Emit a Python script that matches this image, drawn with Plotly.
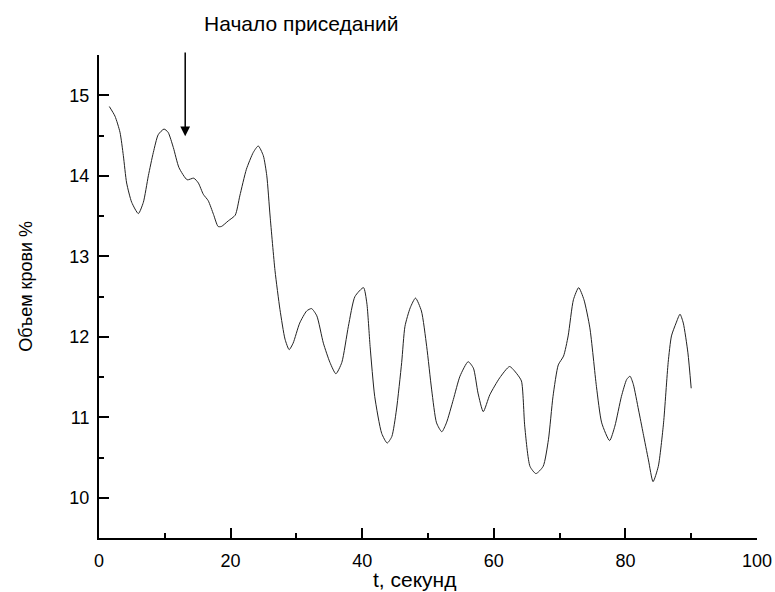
import plotly.graph_objects as go

t = [1.57, 2.43, 3.19, 3.7, 4.2, 4.97, 5.98, 6.74, 7.5, 8.26, 9.0, 9.88, 10.5, 11.3, 12.16,
     13.4, 14.4, 15.1, 15.85, 16.6, 17.4, 18.1, 18.6, 19.65, 20.7, 21.4, 22.4, 23.45, 24.2,
     24.97, 25.5, 26.0, 26.75, 27.5, 28.27, 28.9, 29.5, 30.5, 31.56, 32.3, 33.1, 34.1, 35.1,
     36.0, 36.9, 37.9, 38.9, 40.2, 40.7, 41.2, 41.9, 42.96, 43.8, 44.5, 45.2, 46.0, 46.5,
     47.3, 48.1, 49.0, 49.8, 50.56, 51.3, 52.1, 52.8, 53.85, 54.86, 56.1, 56.9, 57.6, 58.4,
     59.4, 60.9, 62.4, 63.5, 64.2, 64.7, 65.5, 66.4, 67.5, 68.3, 69.0, 69.8, 70.6, 71.3,
     72.1, 72.9, 73.7, 74.6, 75.6, 76.4, 77.6, 78.4, 79.4, 80.2, 80.7, 81.2, 82.0, 82.7,
     83.5, 84.2, 85.0, 85.8, 86.5, 87.0, 87.7, 88.3, 88.8, 89.5, 90.0]
v = [14.86, 14.74, 14.54, 14.25, 13.91, 13.67, 13.53, 13.67, 14.0, 14.29, 14.51, 14.58, 14.54,
     14.35, 14.1, 13.95, 13.97, 13.91, 13.77, 13.69, 13.52, 13.37, 13.37, 13.44, 13.51, 13.75,
     14.08, 14.29, 14.37, 14.25, 14.0, 13.5, 12.82, 12.34, 11.97, 11.84, 11.92, 12.17, 12.32,
     12.35, 12.26, 11.92, 11.68, 11.54, 11.68, 12.13, 12.5, 12.61, 12.42, 11.88, 11.26, 10.80,
     10.68, 10.76, 11.09, 11.68, 12.13, 12.36, 12.48, 12.32, 11.88, 11.34, 10.93, 10.82, 10.93,
     11.22, 11.51, 11.69, 11.61, 11.30, 11.07, 11.28, 11.49, 11.63, 11.54, 11.45, 10.89, 10.39,
     10.30, 10.39, 10.72, 11.26, 11.65, 11.76, 12.01, 12.46, 12.61, 12.46, 12.11, 11.38, 10.93,
     10.71, 10.89, 11.26, 11.47, 11.51, 11.41, 11.09, 10.80, 10.47, 10.20, 10.39, 10.93, 11.68,
     12.01, 12.17, 12.28, 12.17, 11.80, 11.36]

x_ticks = [0, 20, 40, 60, 80, 100]
y_ticks = [10, 11, 12, 13, 14, 15]
arrow_t = 13.1
arrow_tip = 14.49
arrow_top = 15.55
label_text = "Начало приседаний"
x_title = "t, секунд"
y_title = "Объем крови %"

font = "Liberation Sans, Arial, sans-serif"

fig = go.Figure()
fig.add_trace(go.Scatter(x=t, y=v, mode="lines",
                         line=dict(color="#222222", width=1, shape="spline", smoothing=0.6),
                         hoverinfo="skip"))

fig.add_annotation(x=arrow_t, y=arrow_tip, ax=arrow_t, ay=arrow_top, xref="x", yref="y",
                   axref="x", ayref="y", showarrow=True, arrowhead=2, arrowsize=1.3,
                   arrowwidth=1.5, arrowcolor="black", text="")
fig.add_annotation(x=0.3085, y=1.066, xref="paper", yref="paper", text=label_text,
                   showarrow=False, xanchor="center", yanchor="middle",
                   font=dict(family=font, size=21, color="black"))
fig.add_annotation(x=0.480, y=-0.085, xref="paper", yref="paper", text=x_title,
                   showarrow=False, xanchor="center", yanchor="middle",
                   font=dict(family=font, size=21, color="black"))
fig.add_annotation(x=-0.111, y=0.522, xref="paper", yref="paper", text=y_title,
                   showarrow=False, xanchor="center", yanchor="middle", textangle=-90,
                   font=dict(family=font, size=18, color="black"))

axis_common = dict(showline=True, linecolor="black", linewidth=2, showgrid=False,
                   zeroline=False, ticks="inside", ticklen=10, tickwidth=2, tickcolor="black",
                   tickfont=dict(family=font, size=18, color="black"), mirror=False,
                   automargin=False)

fig.update_xaxes(range=[0, 100], tickvals=x_ticks,
                 minor=dict(ticks="inside", ticklen=5, tickwidth=2, tickcolor="black", dtick=10, showgrid=False),
                 ticklabelstandoff=5,
                 **axis_common)
fig.update_yaxes(range=[9.5, 15.5], tickvals=y_ticks,
                 minor=dict(ticks="inside", ticklen=5, tickwidth=2, tickcolor="black", dtick=0.5, showgrid=False),
                 ticklabelstandoff=4,
                 **axis_common)

fig.update_layout(width=775, height=592, margin=dict(l=99, r=18, t=55, b=54),
                  plot_bgcolor="white", paper_bgcolor="white", showlegend=False)

fig.write_html("out.html")
